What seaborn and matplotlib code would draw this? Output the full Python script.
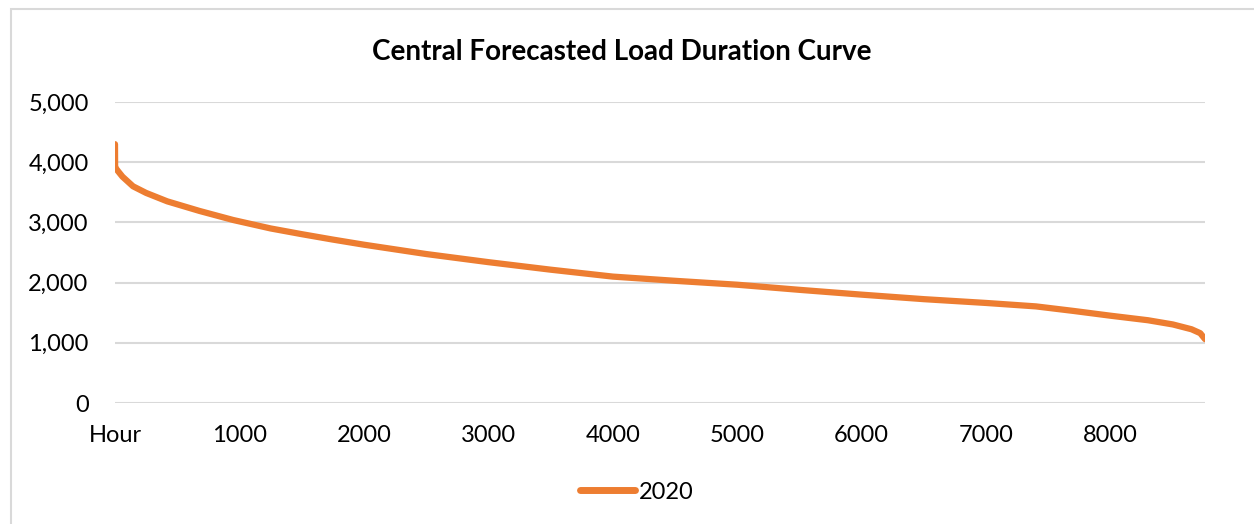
import pandas as pd
import matplotlib.pyplot as plt
import seaborn as sns
from matplotlib.patches import Rectangle
from matplotlib.ticker import FuncFormatter

# Load duration curve points (hour rank vs. MW)
hours = [0, 1, 10, 25, 60, 145, 250, 420, 680, 950, 1250, 1500, 1750, 2000,
         2500, 3000, 3500, 4000, 4500, 5000, 5500, 6000, 6500, 7000, 7400,
         7700, 8000, 8300, 8500, 8650, 8720, 8759]
load = [4300, 3920, 3890, 3850, 3760, 3600, 3490, 3350, 3190, 3040, 2900, 2805,
        2715, 2630, 2475, 2340, 2215, 2100, 2030, 1965, 1880, 1800, 1725, 1662,
        1605, 1530, 1450, 1375, 1305, 1225, 1160, 1060]
series_name = '2020'
x_ticks = [0, 1000, 2000, 3000, 4000, 5000, 6000, 7000, 8000]
x_labels = ['Hour', '1000', '2000', '3000', '4000', '5000', '6000', '7000', '8000']
y_ticks = [0, 1000, 2000, 3000, 4000, 5000]

df = pd.DataFrame({'Hour': hours, 'Load': load, 'Year': series_name})

sns.set_style('white')
plt.rcParams['font.family'] = ['Lato', 'DejaVu Sans']
plt.rcParams['text.color'] = 'black'

fig = plt.figure(figsize=(12.54, 5.24), dpi=100)
ax = fig.add_axes([0.0917, 0.2309, 0.8694, 0.5744])

# chart border
fig.patches.append(Rectangle((11 / 1254, -0.1), 1.2, 1 - 9 / 524 + 0.1,
                             transform=fig.transFigure, fill=False,
                             edgecolor='#D9D9D9', linewidth=1.5))

sns.lineplot(data=df, x='Hour', y='Load', hue='Year', palette=['#ED7D31'],
             linewidth=4.5, ax=ax, solid_capstyle='round',
             solid_joinstyle='round')

ax.set_xlim(0, 8760)
ax.set_ylim(0, 5000)
ax.set_yticks(y_ticks)
ax.yaxis.set_major_formatter(FuncFormatter(lambda v, p: f'{int(v):,}'))
ax.set_xticks(x_ticks)
ax.set_xticklabels(x_labels)
ax.tick_params(axis='both', length=0, labelsize=17, labelcolor='black')
ax.tick_params(axis='x', pad=16)
ax.tick_params(axis='y', pad=19)
ax.grid(axis='y', color='#D9D9D9', linewidth=1.5)
ax.set_axisbelow(True)
for s in ax.spines.values():
    s.set_visible(False)
ax.set_xlabel('')
ax.set_ylabel('')

fig.text(0.496, 0.9, 'Central Forecasted Load Duration Curve', ha='center',
         va='center', fontsize=20, fontweight='bold', color='black')

leg = ax.legend(loc='center', bbox_to_anchor=(0.479, -0.296), frameon=False,
                fontsize=17, handlelength=2.3, handletextpad=0.2)
for line in leg.get_lines():
    line.set_linewidth(5)
for t in leg.get_texts():
    t.set_color('black')

fig.savefig('out.png', dpi=100)
